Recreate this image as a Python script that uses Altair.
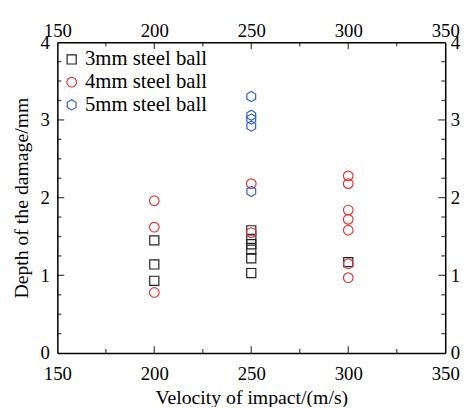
import altair as alt
import pandas as pd

# ---- data ----
series_names = ["3mm steel ball", "4mm steel ball", "5mm steel ball"]
v3 = [200, 200, 200, 250, 250, 250, 250, 250, 250, 300]
d3 = [1.45, 1.14, 0.93, 1.58, 1.47, 1.40, 1.33, 1.22, 1.03, 1.17]
v4 = [200, 200, 200, 250, 250, 300, 300, 300, 300, 300, 300, 300]
d4 = [1.96, 1.62, 0.78, 2.18, 1.55, 2.28, 2.18, 1.84, 1.72, 1.58, 1.15, 0.97]
v5 = [250, 250, 250, 250, 250]
d5 = [3.30, 3.06, 3.01, 2.92, 2.08]

x_major = [150, 200, 250, 300, 350]
x_major_inner = [200, 250, 300]
x_minor = [175, 225, 275, 325]
y_major = [0, 1, 2, 3, 4]
y_major_inner = [1, 2, 3]
y_minor = [0.25, 0.5, 0.75, 1.25, 1.5, 1.75, 2.25, 2.5, 2.75, 3.25, 3.5, 3.75]

rows = []
for name, vs, ds in zip(series_names, [v3, v4, v5], [d3, d4, d5]):
    for v, d in zip(vs, ds):
        rows.append({"v": v, "d": d, "s": name})
df = pd.DataFrame(rows)

W, H = 393, 315
FONT = "Liberation Serif"
HEX = "M0,-1L0.866,-0.5L0.866,0.5L0,1L-0.866,0.5L-0.866,-0.5Z"
MAJ, MIN = 7, 4

xs = alt.Scale(domain=[150, 350], nice=False, zero=False)
ys = alt.Scale(domain=[0, 4], nice=False, zero=False)

label_common = dict(labelFont=FONT, labelFontSize=19, labelColor="black",
                    ticks=False, domain=True, domainColor="black", domainWidth=1.5,
                    grid=False, labelFlush=False, labelOverlap=False)

points = alt.Chart(df).mark_point(filled=False, strokeWidth=1.2, opacity=1).encode(
    x=alt.X("v:Q", scale=xs, axis=alt.Axis(orient="bottom", values=x_major, format="d",
                                            labelPadding=12, title="Velocity of impact/(m/s)",
                                            titleFont=FONT, titleFontSize=20, titleFontWeight="normal",
                                            titleColor="black", titlePadding=4, **label_common)),
    y=alt.Y("d:Q", scale=ys, axis=alt.Axis(orient="left", values=y_major, format="d",
                                            labelPadding=8, title="Depth of the damage/mm",
                                            titleFont=FONT, titleFontSize=20, titleFontWeight="normal",
                                            titleColor="black", titlePadding=9, **label_common)),
    color=alt.Color("s:N", scale=alt.Scale(domain=series_names, range=["#222222", "#e8353a", "#2d5fd6"]),
                    legend=alt.Legend(title=None, orient="none", legendX=4, legendY=7,
                                      labelFont=FONT, labelFontSize=21, labelColor="black",
                                      symbolSize=80, symbolStrokeWidth=1.2, symbolFillColor="transparent",
                                      rowPadding=1, labelOffset=3, padding=0)),
    shape=alt.Shape("s:N", scale=alt.Scale(domain=series_names, range=["square", "circle", HEX])),
    size=alt.Size("s:N", scale=alt.Scale(domain=series_names, range=[85, 105, 140]), legend=None),
    order=alt.Order("s:N"),
)

# top / right labelled axes
lab_layer = alt.Chart(df).mark_point(opacity=0).encode(
    x=alt.X("v:Q", scale=xs, axis=alt.Axis(orient="top", values=x_major, format="d",
                                            labelPadding=2, title=None, **label_common)),
    y=alt.Y("d:Q", scale=ys, axis=alt.Axis(orient="right", values=y_major, format="d",
                                            labelPadding=5, title=None, **label_common)),
)

# inward tick marks, placed through the shared scales
def x_ticks(vals, length, edge):
    off = -length / 2 if edge == "bottom" else length / 2
    return alt.Chart(pd.DataFrame({"v": vals})).mark_tick(
        orient="vertical", color="black", thickness=1.3, size=length, yOffset=off
    ).encode(x=alt.X("v:Q", scale=xs, axis=None),
             y=alt.value(H if edge == "bottom" else 0))

def y_ticks(vals, length, edge):
    off = length / 2 if edge == "left" else -length / 2
    return alt.Chart(pd.DataFrame({"d": vals})).mark_tick(
        orient="horizontal", color="black", thickness=1.3, size=length, xOffset=off
    ).encode(y=alt.Y("d:Q", scale=ys, axis=None),
             x=alt.value(0 if edge == "left" else W))

tick_layers = []
for edge in ["bottom", "top"]:
    tick_layers.append(x_ticks(x_major_inner, MAJ, edge))
    tick_layers.append(x_ticks(x_minor, MIN, edge))
for edge in ["left", "right"]:
    tick_layers.append(y_ticks(y_major_inner, MAJ, edge))
    tick_layers.append(y_ticks(y_minor, MIN, edge))

chart = alt.layer(points, lab_layer, *tick_layers).resolve_axis(
    x="independent", y="independent"
).properties(
    width=W, height=H,
    autosize=alt.AutoSizeParams(type="none"),
    padding={"left": 50, "top": 32, "right": 16, "bottom": 52},
)

chart.save("out.html", embed_options={"renderer": "svg", "actions": False})
